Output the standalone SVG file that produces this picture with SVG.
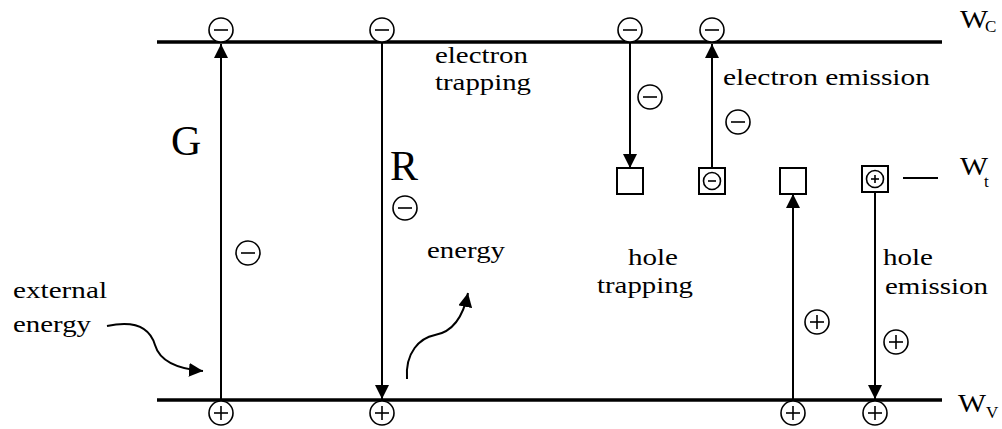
<svg xmlns="http://www.w3.org/2000/svg" width="1002" height="429" viewBox="0 0 1002 429">
<style>
text{font-family:"Liberation Serif","Times New Roman",serif;fill:#000}
.lbl{font-size:24px}
.big{font-size:42px}
.w{font-size:26px}
.sub{font-size:17px}
.band{stroke:#000;stroke-width:3.5}
.conn{stroke:#000;stroke-width:2;fill:none}
.chg{fill:#fff;stroke:#000;stroke-width:1.6}
.sign{stroke:#000;stroke-width:1.6}
.trap{fill:#fff;stroke:#000;stroke-width:2}
</style>
<defs>
<marker id="ah" markerWidth="14" markerHeight="14" refX="14" refY="7" orient="auto" markerUnits="userSpaceOnUse">
<path d="M0,0 L14,7 L0,14 z" fill="#000"/>
</marker>
<g id="minus"><circle class="chg" r="12"/><line class="sign" x1="-7" y1="0" x2="7" y2="0"/></g>
<g id="plus"><circle class="chg" r="12"/><line class="sign" x1="-7" y1="0" x2="7" y2="0"/><line class="sign" x1="0" y1="-7" x2="0" y2="7"/></g>
</defs>
<rect width="1002" height="429" fill="#fff"/>
<g id="bands">
<line class="band" x1="157" y1="42" x2="942" y2="42"/>
<line class="band" x1="157" y1="400" x2="942" y2="400"/>
<line x1="903" y1="178" x2="938" y2="178" stroke="#000" stroke-width="2"/>
</g>
<g id="connectors">
<line class="conn" x1="221" y1="400" x2="221" y2="44" marker-end="url(#ah)"/>
<line class="conn" x1="382" y1="42" x2="382" y2="399" marker-end="url(#ah)"/>
<line class="conn" x1="630" y1="42" x2="630" y2="168" marker-end="url(#ah)"/>
<line class="conn" x1="712" y1="168" x2="712" y2="44" marker-end="url(#ah)"/>
<line class="conn" x1="793" y1="400" x2="793" y2="194" marker-end="url(#ah)"/>
<line class="conn" x1="875" y1="193" x2="875" y2="399" marker-end="url(#ah)"/>
<path class="conn" d="M107,326 C135,320 150,328 155,345 C160,362 178,369 203,371" marker-end="url(#ah)"/>
<path class="conn" d="M407,379 C405,352 420,338 435,335 C452,332 463,318 468,293" marker-end="url(#ah)"/>
</g>
<g id="top-charges">
<use href="#minus" x="221" y="30"/>
<use href="#minus" x="382" y="30"/>
<use href="#minus" x="630" y="30"/>
<use href="#minus" x="712" y="30"/>
</g>
<g id="bottom-charges">
<use href="#plus" x="221" y="413"/>
<use href="#plus" x="382" y="413"/>
<use href="#plus" x="793" y="413"/>
<use href="#plus" x="875" y="413"/>
</g>
<g id="moving-charges">
<use href="#minus" x="248" y="253"/>
<use href="#minus" x="405" y="208"/>
<use href="#minus" x="650" y="97"/>
<use href="#minus" x="738" y="122"/>
<use href="#plus" x="817" y="322"/>
<use href="#plus" x="896" y="342"/>
</g>
<g id="trap-empty-1"><rect class="trap" x="617" y="168" width="26" height="26"/></g>
<g id="trap-electron"><rect class="trap" x="699" y="168" width="26" height="26"/><circle class="chg" cx="712" cy="181" r="8.5"/><line class="sign" x1="708" y1="181" x2="716" y2="181"/></g>
<g id="trap-empty-2"><rect class="trap" x="780" y="168" width="26" height="26"/></g>
<g id="trap-hole"><rect class="trap" x="862" y="166" width="26" height="26"/><circle class="chg" cx="875" cy="179" r="8.5"/><line class="sign" x1="871" y1="179" x2="879" y2="179"/><line class="sign" x1="875" y1="175" x2="875" y2="183"/></g>
<g id="labels">
<text class="big" x="171" y="155">G</text>
<text class="big" x="390" y="180">R</text>
<text class="lbl" x="435" y="63" textLength="93" lengthAdjust="spacingAndGlyphs">electron</text>
<text class="lbl" x="435" y="90" textLength="96" lengthAdjust="spacingAndGlyphs">trapping</text>
<text class="lbl" x="723" y="85" textLength="207" lengthAdjust="spacingAndGlyphs">electron emission</text>
<text class="lbl" x="13" y="298" textLength="94" lengthAdjust="spacingAndGlyphs">external</text>
<text class="lbl" x="13" y="332" textLength="78" lengthAdjust="spacingAndGlyphs">energy</text>
<text class="lbl" x="427" y="258" textLength="78" lengthAdjust="spacingAndGlyphs">energy</text>
<text class="lbl" x="628" y="265" textLength="50" lengthAdjust="spacingAndGlyphs">hole</text>
<text class="lbl" x="597" y="293" textLength="96" lengthAdjust="spacingAndGlyphs">trapping</text>
<text class="lbl" x="883" y="265" textLength="50" lengthAdjust="spacingAndGlyphs">hole</text>
<text class="lbl" x="885" y="294" textLength="103" lengthAdjust="spacingAndGlyphs">emission</text>
<text class="w" x="960" y="28" textLength="28" lengthAdjust="spacingAndGlyphs">W</text><text class="sub" x="985" y="32">C</text>
<text class="w" x="960" y="175" textLength="28" lengthAdjust="spacingAndGlyphs">W</text><text class="sub" x="984" y="187">t</text>
<text class="w" x="958" y="412" textLength="28" lengthAdjust="spacingAndGlyphs">W</text><text class="sub" x="986" y="418">V</text>
</g>
</svg>
